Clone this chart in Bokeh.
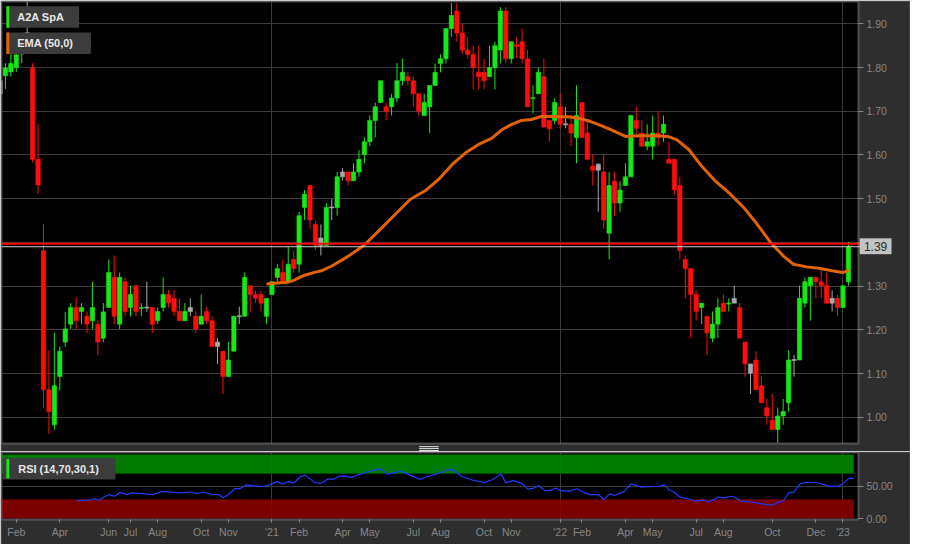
import numpy as np
from bokeh.plotting import figure
from bokeh.models import (Range1d, FixedTicker, NumeralTickFormatter, ColumnDataSource,
                          BoxAnnotation, Label)
from bokeh.layouts import column
from bokeh.embed import file_html
from bokeh.resources import INLINE

# ---------------- data (weekly candles, A2A SpA, Jan 2020 - Jan 2023) ----------------
opens = [1.770, 1.781, 1.790, 1.800, 1.831, 1.880, 1.799, 1.590, 1.381, 1.063,
         0.983, 1.093, 1.172, 1.213, 1.251, 1.242, 1.231, 1.221, 1.213, 1.181,
         1.251, 1.320, 1.213, 1.310, 1.251, 1.301, 1.249, 1.251, 1.251, 1.221,
         1.251, 1.281, 1.272, 1.242, 1.221, 1.251, 1.231, 1.213, 1.242, 1.221,
         1.172, 1.151, 1.093, 1.151, 1.231, 1.231, 1.301, 1.281, 1.281, 1.231,
         1.281, 1.320, 1.331, 1.310, 1.361, 1.350, 1.480, 1.530, 1.441, 1.410,
         1.393, 1.480, 1.480, 1.561, 1.561, 1.541, 1.561, 1.601, 1.630, 1.679,
         1.720, 1.710, 1.710, 1.730, 1.770, 1.779, 1.770, 1.740, 1.690, 1.710,
         1.759, 1.809, 1.820, 1.889, 1.929, 1.879, 1.840, 1.830, 1.789, 1.789,
         1.779, 1.800, 1.840, 1.929, 1.820, 1.852, 1.859, 1.820, 1.729, 1.740,
         1.779, 1.679, 1.679, 1.710, 1.670, 1.670, 1.640, 1.720, 1.650, 1.574,
         1.579, 1.561, 1.421, 1.540, 1.490, 1.530, 1.550, 1.679, 1.650, 1.620,
         1.620, 1.650, 1.650, 1.590, 1.590, 1.530, 1.361, 1.340, 1.281, 1.251,
         1.231, 1.181, 1.213, 1.261, 1.259, 1.272, 1.251, 1.172, 1.101, 1.131,
         1.072, 1.022, 0.993, 0.972, 1.003, 1.033, 1.131, 1.131, 1.261, 1.301,
         1.320, 1.310, 1.301, 1.272, 1.272, 1.251, 1.310]
highs = [1.780, 1.810, 1.850, 1.850, 1.870, 1.950, 1.810, 1.670, 1.442, 1.153,
         1.193, 1.162, 1.241, 1.261, 1.274, 1.261, 1.242, 1.310, 1.221, 1.261,
         1.361, 1.370, 1.331, 1.320, 1.301, 1.301, 1.261, 1.310, 1.251, 1.251,
         1.320, 1.291, 1.291, 1.272, 1.261, 1.272, 1.242, 1.281, 1.253, 1.231,
         1.181, 1.151, 1.172, 1.231, 1.253, 1.331, 1.301, 1.290, 1.290, 1.272,
         1.310, 1.350, 1.361, 1.390, 1.381, 1.470, 1.520, 1.530, 1.450, 1.441,
         1.490, 1.500, 1.561, 1.570, 1.561, 1.581, 1.611, 1.640, 1.690, 1.720,
         1.770, 1.720, 1.740, 1.810, 1.820, 1.789, 1.779, 1.740, 1.740, 1.759,
         1.809, 1.830, 1.889, 1.947, 1.947, 1.899, 1.870, 1.850, 1.850, 1.820,
         1.850, 1.859, 1.938, 1.938, 1.859, 1.870, 1.889, 1.840, 1.759, 1.800,
         1.820, 1.679, 1.730, 1.740, 1.710, 1.690, 1.759, 1.720, 1.679, 1.601,
         1.581, 1.601, 1.561, 1.561, 1.540, 1.581, 1.690, 1.710, 1.679, 1.670,
         1.690, 1.700, 1.690, 1.630, 1.590, 1.550, 1.370, 1.340, 1.290, 1.261,
         1.231, 1.242, 1.272, 1.281, 1.272, 1.301, 1.261, 1.172, 1.122, 1.151,
         1.093, 1.042, 1.053, 1.022, 1.042, 1.153, 1.142, 1.301, 1.320, 1.320,
         1.320, 1.340, 1.331, 1.290, 1.281, 1.301, 1.401]
lows = [1.730, 1.751, 1.779, 1.790, 1.810, 1.840, 1.583, 1.510, 1.021, 0.962,
        0.972, 1.061, 1.161, 1.202, 1.202, 1.213, 1.193, 1.202, 1.142, 1.172,
        1.250, 1.213, 1.202, 1.231, 1.231, 1.231, 1.231, 1.242, 1.193, 1.213,
        1.242, 1.251, 1.231, 1.221, 1.221, 1.231, 1.193, 1.213, 1.213, 1.162,
        1.122, 1.053, 1.093, 1.151, 1.213, 1.231, 1.241, 1.261, 1.242, 1.213,
        1.281, 1.310, 1.310, 1.310, 1.331, 1.331, 1.451, 1.431, 1.383, 1.370,
        1.393, 1.451, 1.461, 1.541, 1.530, 1.541, 1.550, 1.581, 1.620, 1.640,
        1.720, 1.679, 1.690, 1.720, 1.759, 1.759, 1.710, 1.690, 1.690, 1.650,
        1.759, 1.789, 1.809, 1.870, 1.859, 1.830, 1.820, 1.750, 1.750, 1.750,
        1.779, 1.750, 1.809, 1.809, 1.809, 1.820, 1.809, 1.710, 1.695, 1.740,
        1.661, 1.630, 1.670, 1.661, 1.661, 1.620, 1.581, 1.640, 1.590, 1.530,
        1.470, 1.431, 1.361, 1.461, 1.470, 1.530, 1.550, 1.640, 1.620, 1.611,
        1.590, 1.620, 1.630, 1.581, 1.510, 1.361, 1.272, 1.181, 1.221, 1.213,
        1.142, 1.172, 1.181, 1.242, 1.242, 1.261, 1.181, 1.093, 1.053, 1.063,
        1.033, 0.983, 0.972, 0.942, 0.983, 1.013, 1.093, 1.131, 1.251, 1.221,
        1.272, 1.272, 1.261, 1.242, 1.231, 1.251, 1.301]
closes = [1.740, 1.799, 1.809, 1.829, 1.850, 1.850, 1.590, 1.531, 1.063, 1.013,
          1.072, 1.151, 1.202, 1.251, 1.221, 1.251, 1.213, 1.251, 1.172, 1.241,
          1.331, 1.231, 1.320, 1.242, 1.281, 1.242, 1.251, 1.251, 1.213, 1.242,
          1.281, 1.262, 1.242, 1.221, 1.242, 1.242, 1.202, 1.231, 1.221, 1.162,
          1.162, 1.093, 1.131, 1.231, 1.231, 1.320, 1.281, 1.272, 1.261, 1.272,
          1.310, 1.340, 1.310, 1.350, 1.340, 1.461, 1.510, 1.451, 1.393, 1.393,
          1.480, 1.480, 1.550, 1.550, 1.541, 1.561, 1.590, 1.630, 1.679, 1.710,
          1.770, 1.700, 1.730, 1.770, 1.789, 1.770, 1.740, 1.700, 1.720, 1.759,
          1.789, 1.820, 1.889, 1.919, 1.879, 1.840, 1.830, 1.800, 1.779, 1.770,
          1.800, 1.850, 1.929, 1.820, 1.859, 1.848, 1.820, 1.710, 1.731, 1.789,
          1.664, 1.660, 1.720, 1.670, 1.670, 1.650, 1.690, 1.640, 1.590, 1.565,
          1.565, 1.451, 1.530, 1.490, 1.520, 1.550, 1.690, 1.661, 1.620, 1.630,
          1.650, 1.640, 1.670, 1.581, 1.520, 1.381, 1.340, 1.281, 1.242, 1.261,
          1.193, 1.213, 1.251, 1.242, 1.261, 1.261, 1.181, 1.122, 1.122, 1.063,
          1.033, 1.003, 0.972, 1.003, 1.013, 1.131, 1.131, 1.272, 1.310, 1.320,
          1.310, 1.301, 1.261, 1.261, 1.251, 1.301, 1.390]
last_trade = 1.397

# EMA(50) (week index, value)
ema_idx = [49, 51, 53, 54, 56, 58, 59.1, 61, 64, 67,
           70, 72.4, 75.4, 78.4, 80.8, 83.2, 85.6, 88, 90.4, 92.2,
           94.1, 95.9, 97.7, 99.5, 102.5, 104.9, 106.7, 108.5, 110.3, 112.1,
           115.1, 117.5, 120.6, 122.9, 124.4, 126.6, 128.9, 131.4, 134.4, 136.8,
           139.2, 141.6, 144.1, 145.9, 148.3, 150.6, 153, 154.9, 156]
ema_val = [1.305, 1.307, 1.309, 1.313, 1.325, 1.332, 1.335, 1.346, 1.368, 1.394,
           1.431, 1.461, 1.498, 1.520, 1.546, 1.579, 1.605, 1.624, 1.638, 1.657,
           1.670, 1.679, 1.681, 1.688, 1.688, 1.687, 1.683, 1.677, 1.668, 1.659,
           1.642, 1.644, 1.644, 1.642, 1.635, 1.613, 1.576, 1.542, 1.509, 1.479,
           1.442, 1.401, 1.368, 1.350, 1.344, 1.341, 1.335, 1.331, 1.336]

# RSI(14)
rsi_idx = [14.1, 16.4, 17.3, 18.2, 20, 21.1, 22.1, 23.3, 24.2, 26,
           28.1, 29.9, 33.2, 35, 36.2, 37.4, 39, 40.2, 41.1, 42,
           43.2, 44.1, 45.3, 46.5, 48.3, 49.5, 51, 51.9, 53.1, 54,
           55.2, 56.1, 57.9, 59.1, 60.3, 61.5, 62.4, 63.6, 64.6, 65.7,
           67.5, 68.8, 70, 71.2, 72.4, 73.6, 75.4, 77.2, 78.4, 80.2,
           82, 83.2, 85, 86.8, 89, 90.4, 92.1, 93, 94.4, 95.9,
           97.1, 98.2, 99, 100.1, 101, 102.2, 103.1, 104.6, 106, 107.3,
           108.5, 110, 111, 112.1, 113, 114.8, 116, 117.9, 120, 121.2,
           122.1, 123, 123.9, 125.1, 126.3, 127.8, 129.3, 130.2, 131.4, 132,
           133.2, 134.4, 135, 136.2, 138, 139.8, 142, 142.9, 144, 145,
           145.9, 147.1, 148, 149.5, 150.7, 152.2, 154, 154.9, 156.1, 157]
rsi_val = [27.8, 28.8, 30.8, 28.8, 37.4, 34.8, 40.9, 37.4, 39.9, 38.9,
           37.4, 42.4, 39.9, 41.4, 38.9, 41.4, 37.4, 37.4, 32.3, 37.4,
           46.5, 46.5, 52.5, 51, 50, 52.5, 57.6, 54, 57.6, 55,
           65.2, 67.7, 56, 55, 61.6, 61.6, 66.2, 66.2, 64.1, 67.7,
           72.7, 75.3, 77.8, 69.2, 71.2, 74.2, 67.7, 61.1, 65.2, 69.2,
           75.3, 76.2, 65.2, 60.1, 56, 60.1, 69.2, 56, 59.1, 55,
           45.9, 47.5, 51.5, 43.9, 43.4, 47.5, 43.4, 42.4, 46.5, 40.9,
           37.4, 37.4, 29.8, 38.4, 35.9, 42.4, 54, 48.9, 50, 50,
           52.5, 45, 41.4, 33.3, 31.3, 27.3, 28.8, 25.8, 29.8, 33.3,
           32.3, 34.8, 33.8, 27.3, 25.8, 23.2, 20.7, 24.7, 27.3, 39.9,
           40.9, 54, 56, 56.6, 55, 51, 50, 54, 62.6, 62.6]
rsi_upper, rsi_lower, rsi_top = 70, 30, 100

# axis ticks
price_ticks = [1.0, 1.1, 1.2, 1.3, 1.5, 1.6, 1.7, 1.8, 1.9]
price_grid = [1.0, 1.1, 1.2, 1.3, 1.4, 1.5, 1.6, 1.7, 1.8, 1.9]
rsi_ticks = [0, 50]
month_ticks = [3, 11, 20, 24, 29, 37, 42, 50, 55, 63, 68, 76, 81, 89, 94,
               103, 107, 115, 120, 128, 133, 142, 150, 155]
month_labels = ["Feb", "Apr", "Jun", "Jul", "Aug", "Oct", "Nov", "'21", "Feb", "Apr",
                "May", "Jul", "Aug", "Oct", "Nov", "'22", "Feb", "Apr", "May", "Jul",
                "Aug", "Oct", "Dec", "'23"]
year_ticks = [50, 103, 155]

assert len(opens) == len(highs) == len(lows) == len(closes)
assert len(ema_idx) == len(ema_val) and len(rsi_idx) == len(rsi_val)

# ---------------- derived ----------------
o = np.array(opens); h = np.array(highs); l = np.array(lows); c = np.array(closes)
n = len(c)
idx = np.arange(n)
prev = np.r_[c[0], c[:-1]]
GREEN, RED, GRAY = "#17e617", "#ff0d0d", "#a8a8a8"
col = np.where(c == prev, GRAY, np.where(c >= o, GREEN, RED))
top = np.maximum(o, c); bot = np.minimum(o, c)
mid = (top + bot) / 2
thin = (top - bot) < 0.0022
top = np.where(thin, mid + 0.0011, top)
bot = np.where(thin, mid - 0.0011, bot)
src = ColumnDataSource(dict(i=idx, h=h, l=l, top=top, bot=bot, col=col))

# ---------------- layout constants (reference pixels scaled to the 910x544 page) ----------------
W = 910
SX, SY = 910 / 926, 544 / 560
X0 = 0.28
PXX = (157.85 - 0.28) / 857          # index units per screen px
X1 = X0 + (W - 2) * PXX              # frame spans the whole width (axis drawn inside)
Y1 = 1.951
PXY = (1.951 - 0.94) / 442           # price units per screen px
H1, FT1 = 451, 1
Y0 = Y1 - (H1 - FT1) * PXY
H2, FT2 = 93, 1
R1 = 103
RPX = 104.5 / 67                     # rsi units per screen px
RB = R1 - 67 * RPX                   # bottom of the RSI plotting area
R0 = R1 - (H2 - FT2) * RPX

BG = "#2e2e2e"
AXC = "#868686"
GRIDC = "#3b3b3b"
EDGE = "#d2d2da"
FONT = "Liberation Sans"


def px2x(rx):
    return X0 + (rx * SX - 1) * PXX


def py2y(ry):
    return Y1 - (ry * SY - FT1) * PXY


def py2r(ry):
    return R1 - (ry * SY - H1 - FT2) * RPX


def style_axis(ax):
    ax.axis_line_color = None
    ax.major_tick_line_color = AXC
    ax.minor_tick_line_color = None
    ax.major_tick_in = 0
    ax.major_label_text_color = AXC
    ax.major_label_text_font = FONT
    ax.major_label_text_font_size = "10.5px"


PLOT_R = px2x(873)   # right edge of the plotting area

# ---------------- main price chart ----------------
p = figure(width=W, height=H1, x_range=Range1d(X0, X1), y_range=Range1d(Y0, Y1),
           output_backend="svg", toolbar_location=None, x_axis_location=None,
           y_axis_location="right", background_fill_color="black",
           border_fill_color=BG, min_border_left=1, min_border_top=FT1,
           min_border_bottom=0, min_border_right=1, outline_line_color=None)
p.ygrid.ticker = FixedTicker(ticks=price_grid)
p.xgrid.ticker = FixedTicker(ticks=year_ticks)
p.grid.grid_line_color = GRIDC
p.yaxis.ticker = FixedTicker(ticks=price_ticks)
p.yaxis.formatter = NumeralTickFormatter(format="0.00")
style_axis(p.yaxis[0])
p.yaxis.major_tick_out = 5
p.yaxis.major_label_standoff = 3
p.yaxis.fixed_location = PLOT_R

# axis strip and separator strip share the page colour
p.add_layout(BoxAnnotation(left=PLOT_R, fill_color=BG, fill_alpha=1, line_color=None,
                           level="underlay"))
p.add_layout(BoxAnnotation(top=py2y(456), fill_color=BG, fill_alpha=1, line_color=None,
                           level="underlay"))

p.segment("i", "l", "i", "h", source=src, line_color="col", line_width=1)
p.vbar(x="i", width=0.8, top="top", bottom="bot", source=src,
       fill_color="col", line_color="col", line_width=0.6)
p.line(ema_idx, ema_val, line_color="#e26208", line_width=3)

# last-price lines
p.segment(x0=[X0, X0], x1=[PLOT_R + 0.3, PLOT_R + 0.3], y0=[c[-1], last_trade],
          y1=[c[-1], last_trade], line_color=["#cfcfcf", "#ff0000"], line_width=[1, 2])

# plot-area border
p.add_layout(BoxAnnotation(right=PLOT_R, bottom=py2y(456), fill_alpha=0, fill_color=None,
                           line_color=EDGE, line_width=2))

# last-price box
p.add_layout(BoxAnnotation(left=px2x(874.5), right=px2x(906.5), top=py2y(245), bottom=py2y(261),
                           fill_color="#c3c3c3", fill_alpha=1, line_color="#dcdcdc", line_width=1))
p.add_layout(Label(x=px2x(890.5), y=c[-1], text=f"{c[-1]:.2f}", text_align="center",
                   text_baseline="middle", text_font=FONT, text_font_size="12px",
                   text_color="#2a2a2a"))

# legend boxes
for (x0, x1, y0, y1, bar, txt) in [(6, 80, 6, 28, GREEN, "A2A SpA"),
                                   (6, 92, 33, 55, "#e26208", "EMA (50,0)")]:
    p.add_layout(BoxAnnotation(left=px2x(x0), right=px2x(x1), top=py2y(y0), bottom=py2y(y1),
                               fill_color="#3c3c3c", fill_alpha=1, line_color=None))
    p.add_layout(BoxAnnotation(left=px2x(x0), right=px2x(x0 + 3), top=py2y(y0), bottom=py2y(y1),
                               fill_color=bar, fill_alpha=1, line_color=None))
    p.add_layout(Label(x=px2x(17), y=py2y((y0 + y1) / 2), text=txt, text_baseline="middle",
                       text_font=FONT, text_font_size="11px", text_font_style="bold",
                       text_color="#e8e8e8"))

# panel drag handle
for ry in (459.3, 461.3, 463.3):
    p.add_layout(BoxAnnotation(left=px2x(426), right=px2x(446), top=py2y(ry - 0.5),
                               bottom=py2y(ry + 0.5), fill_color="#f0f0f0", fill_alpha=1,
                               line_color=None))

# ---------------- RSI panel ----------------
p2 = figure(width=W, height=H2, x_range=p.x_range, y_range=Range1d(R0, R1),
            output_backend="svg", toolbar_location=None, y_axis_location="right",
            x_axis_location="below", background_fill_color="black",
            border_fill_color=BG, min_border_left=1, min_border_top=FT2,
            min_border_bottom=0, min_border_right=1, outline_line_color=None)
p2.ygrid.ticker = FixedTicker(ticks=[50])
p2.xgrid.ticker = FixedTicker(ticks=year_ticks)
p2.grid.grid_line_color = GRIDC
p2.yaxis.ticker = FixedTicker(ticks=rsi_ticks)
p2.yaxis.formatter = NumeralTickFormatter(format="0.00")
style_axis(p2.yaxis[0])
p2.yaxis.major_tick_out = 5
p2.yaxis.major_label_standoff = 3
p2.yaxis.fixed_location = PLOT_R
p2.xaxis.ticker = FixedTicker(ticks=month_ticks)
p2.xaxis.major_label_overrides = {t: s for t, s in zip(month_ticks, month_labels)}
style_axis(p2.xaxis[0])
p2.xaxis.major_tick_out = 3
p2.xaxis.major_label_standoff = 3
p2.xaxis.fixed_location = RB

p2.add_layout(BoxAnnotation(left=PLOT_R, fill_color=BG, fill_alpha=1, line_color=None,
                            level="underlay"))
p2.add_layout(BoxAnnotation(top=RB, fill_color=BG, fill_alpha=1, line_color=None,
                            level="underlay"))
p2.add_layout(BoxAnnotation(bottom=rsi_upper, top=rsi_top, right=n, fill_color="#008400",
                            fill_alpha=0.93, line_color="#0c0c0c", line_width=1,
                            level="underlay"))
p2.add_layout(BoxAnnotation(bottom=0, top=rsi_lower, right=n, fill_color="#840000",
                            fill_alpha=0.93, line_color="#0c0c0c", line_width=1,
                            level="underlay"))
p2.line(rsi_idx, rsi_val, line_color="#1f3cff", line_width=1.2)

p2.add_layout(BoxAnnotation(right=PLOT_R, bottom=RB, fill_alpha=0, fill_color=None,
                            line_color=EDGE, line_width=2))

p2.add_layout(BoxAnnotation(left=px2x(2), right=px2x(117), top=py2r(471), bottom=py2r(493),
                            fill_color="#3c3c3c", fill_alpha=1, line_color=None))
p2.add_layout(BoxAnnotation(left=px2x(6), right=px2x(9), top=py2r(472), bottom=py2r(492),
                            fill_color=GREEN, fill_alpha=1, line_color=None))
p2.add_layout(Label(x=px2x(18), y=py2r(482), text="RSI (14,70,30,1)", text_baseline="middle",
                    text_font=FONT, text_font_size="11px", text_font_style="bold",
                    text_color="#e8e8e8"))

layout = column(p, p2, spacing=0)
open("out.html", "w").write(file_html(layout, INLINE))
